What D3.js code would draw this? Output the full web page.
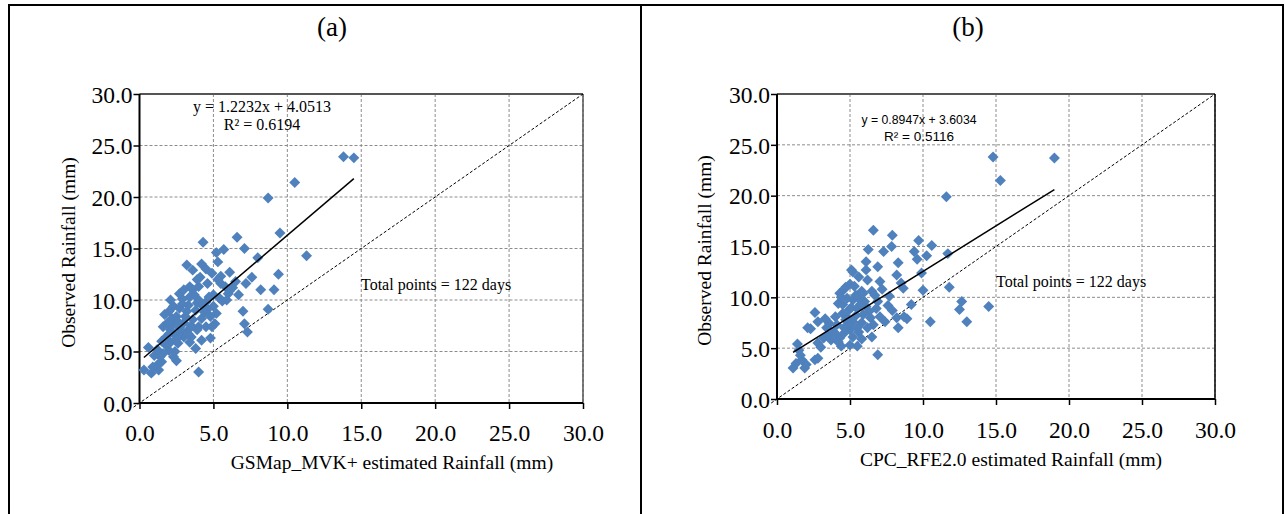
<!DOCTYPE html>
<html>
<head>
<meta charset="utf-8">
<script src="https://cdn.jsdelivr.net/npm/d3@7"></script>
<style>
  body { margin: 0; background: #fff; }
  svg text { font-family: "Liberation Serif", "Times New Roman", serif; fill: #000; }
</style>
</head>
<body>
<div id="chart"></div>
<script>
// ---------------- data ----------------
var tickValues = [0, 5, 10, 15, 20, 25, 30];
var panelTitles = ["(a)", "(b)"];
var xTitles = ["GSMap_MVK+ estimated Rainfall (mm)", "CPC_RFE2.0 estimated Rainfall (mm)"];
var yTitle = "Observed Rainfall (mm)";
var slopes = [1.2232, 0.8947];
var intercepts = [4.0513, 3.6034];
var eqLabels = ["y = 1.2232x + 4.0513", "y = 0.8947x + 3.6034"];
var r2Labels = ["R² = 0.6194", "R² = 0.5116"];
var noteLabel = "Total points = 122 days";

// panel (a): GSMap_MVK+ estimate vs observed
var gsmapEst = [13.8,14.5,10.5,8.7,9.5,11.3,4.3,6.6,5.7,5.2,7.1,5.3,3.2,3.6,4.2,4.5,4.9,5.5,8.0,7.6,
  9.4,9.1,8.2,7.2,6.7,6.1,5.8,4.6,4.0,3.4,5.4,5.0,4.5,4.0,3.4,2.9,2.1,2.3,2.0,2.7,
  3.3,3.8,2.5,3.1,3.6,4.2,5.1,4.5,4.0,1.6,2.2,2.7,3.3,3.9,4.8,4.2,3.8,2.5,4.0,0.6,
  0.3,0.8,1.2,1.5,1.3,2.0,2.4,1.6,1.4,2.1,2.6,1.8,2.4,3.0,3.5,2.1,7.0,7.1,7.3,8.7,
  6.0,5.0,5.3,3.6,4.4,4.9,3.0,1.9,2.7,3.9,4.7,5.6,6.3,2.2,1.8,1.0,3.2,4.1,5.9,6.5,
  2.8,3.4,1.5,2.9,3.7,4.8,2.6,1.2,3.5,4.3,5.2,6.1,3.9,2.0,2.3,0.9,3.0,4.6,1.7,5.5,
  3.3,2.5];
var gsmapObs = [23.9,23.8,21.4,19.9,16.5,14.3,15.6,16.1,14.9,14.6,15.0,13.7,13.4,12.9,13.5,13.0,12.6,12.3,14.1,12.2,
  12.5,11.0,11.0,11.6,10.5,10.9,11.3,11.6,11.3,11.3,10.2,9.4,9.8,10.0,10.3,10.1,10.0,9.4,8.9,9.2,
  9.5,9.0,8.4,8.4,8.1,8.2,7.7,7.4,7.4,7.4,7.6,7.3,7.1,7.1,6.3,6.1,5.3,4.1,3.0,5.4,
  3.2,2.9,3.7,4.0,3.2,5.1,5.0,4.8,4.5,5.9,5.8,6.4,6.6,6.4,6.4,7.1,8.9,7.7,6.9,9.1,
  10.6,10.5,12.0,11.0,8.8,7.4,7.8,7.8,10.6,9.7,10.3,9.9,11.2,8.2,5.6,4.6,8.9,12.2,10.0,11.8,
  6.9,5.9,6.0,9.6,10.5,8.4,7.9,5.2,7.5,9.4,8.7,12.7,12.0,6.7,4.5,3.5,11.0,9.1,8.6,11.6,
  6.7,6.2];

// panel (b): CPC_RFE2.0 estimate vs observed
var cpcEst = [14.8,19.0,15.3,11.6,6.6,7.9,6.25,7.85,9.7,10.6,7.3,9.4,10.25,9.6,11.7,6.1,6.9,6.1,8.3,5.2,
  5.1,8.2,7.05,8.5,8.65,10.0,11.8,12.65,12.5,14.5,13.0,10.5,8.3,8.9,8.2,7.6,7.7,6.9,6.5,5.8,
  5.0,4.7,4.3,4.2,4.8,5.2,5.6,4.95,5.5,6.1,6.8,7.05,6.4,5.8,5.2,4.7,4.0,4.1,5.0,5.6,
  5.2,4.3,4.4,5.0,5.5,3.7,3.2,2.8,3.5,2.6,2.8,2.1,1.4,1.5,1.7,1.1,1.9,2.6,2.8,6.9,
  4.6,5.4,6.0,4.5,5.9,6.6,3.6,4.9,5.4,6.2,3.9,4.6,2.3,1.6,1.3,2.0,3.0,4.2,5.8,6.5,
  7.4,7.9,8.7,9.2,6.7,5.3,4.5,3.3,5.1,5.7,6.3,4.8,5.5,4.0,4.6,5.9,7.2,9.9,4.4,3.4,
  5.6,6.2];
var cpcObs = [23.8,23.7,21.5,19.9,16.6,16.1,14.7,15.0,15.6,15.1,14.5,14.5,14.1,13.75,14.3,13.5,13.0,12.7,13.4,12.5,
  12.7,12.2,11.55,11.4,10.9,10.7,11.0,9.6,8.8,9.1,7.6,7.6,7.0,7.9,8.0,9.2,10.1,9.6,10.6,10.6,
  11.3,11.0,10.4,9.4,9.9,9.75,9.9,8.8,8.9,9.1,8.9,8.1,8.0,7.5,7.6,7.8,8.1,7.3,6.8,6.6,
  6.1,6.0,5.2,5.3,5.2,5.8,6.0,5.5,6.3,8.5,7.6,7.0,5.4,4.8,3.85,3.05,3.05,3.85,4.0,4.35,
  10.8,10.2,9.6,8.4,8.3,7.3,7.4,7.2,8.2,7.0,6.6,6.5,6.9,4.3,3.5,3.4,5.1,5.6,5.9,6.1,
  7.6,8.7,8.1,9.3,10.2,11.1,9.3,7.9,9.0,9.3,8.6,8.0,7.0,6.4,7.0,10.4,10.8,12.4,10.0,7.0,
  12.0,11.7];

// ---------------- layout ----------------
var W = 1285, H = 514;
var svg = d3.select("#chart").append("svg")
  .attr("width", W)
  .attr("height", H);

// outer frame of the two panels
var frame = svg.append("g").attr("stroke", "#000").attr("stroke-width", 2);
frame.append("line").attr("x1", 9).attr("y1", 5).attr("x2", 1283).attr("y2", 5);
frame.append("line").attr("x1", 9).attr("y1", 4).attr("x2", 9).attr("y2", H);
frame.append("line").attr("x1", 641).attr("y1", 4).attr("x2", 641).attr("y2", H);
frame.append("line").attr("x1", 1283).attr("y1", 4).attr("x2", 1283).attr("y2", H);

var panels = [
  { left: 139.5, right: 583, top: 94, bottom: 403, xs: gsmapEst, ys: gsmapObs,
    titleX: 332, yTitleX: 68, xTickY: 441, xTitleX: 392, xTitleY: 469,
    eqFont: "serif", eqX: 262, eqY: 112, eqSize: 16, r2X: 262, r2Y: 130, eqLen: 138,
    noteX: 361, noteY: 290, rightStroke: "#555" },
  { left: 777, right: 1215, top: 94, bottom: 399, xs: cpcEst, ys: cpcObs,
    titleX: 968, yTitleX: 704, xTickY: 438, xTitleX: 1011, xTitleY: 466,
    eqFont: "sans", eqX: 919, eqY: 124, eqSize: 13.5, r2X: 919, r2Y: 141, eqLen: 115,
    noteX: 996, noteY: 287, rightStroke: "#000" }
];

panels.forEach(function(p, i){
  var x = d3.scaleLinear().domain([0, 30]).range([p.left, p.right]);
  var y = d3.scaleLinear().domain([0, 30]).range([p.bottom, p.top]);
  var g = svg.append("g");

  // grid lines every 5 mm
  g.append("g").selectAll("line").data(tickValues.slice(1)).enter()
    .append("line")
      .attr("x1", function(d){ return x(d); }).attr("x2", function(d){ return x(d); })
      .attr("y1", p.top).attr("y2", p.bottom)
      .attr("stroke", "#8c8c8c").attr("stroke-width", 1).attr("stroke-dasharray", "3,2");
  g.append("g").selectAll("line").data(tickValues.slice(1)).enter()
    .append("line")
      .attr("x1", p.left).attr("x2", p.right)
      .attr("y1", function(d){ return y(d); }).attr("y2", function(d){ return y(d); })
      .attr("stroke", "#8c8c8c").attr("stroke-width", 1).attr("stroke-dasharray", "3,2");

  // plot area top / right border
  g.append("line").attr("x1", p.left).attr("x2", p.right).attr("y1", p.top).attr("y2", p.top)
    .attr("stroke", "#555").attr("stroke-width", 2);
  g.append("line").attr("x1", p.right).attr("x2", p.right).attr("y1", p.top).attr("y2", p.bottom)
    .attr("stroke", p.rightStroke).attr("stroke-width", 1.5);

  // 1:1 line
  g.append("line")
    .attr("x1", x(-0.4)).attr("y1", y(-0.4)).attr("x2", x(30)).attr("y2", y(30))
    .attr("stroke", "#000").attr("stroke-width", 1).attr("stroke-dasharray", "3,2");

  // axes
  var xAxis = d3.axisBottom(x).tickValues(tickValues).tickSize(6).tickFormat(d3.format(".1f"));
  var yAxis = d3.axisLeft(y).tickValues(tickValues).tickSize(6).tickFormat(d3.format(".1f"));
  var gx = g.append("g").attr("transform", "translate(0," + p.bottom + ")").call(xAxis);
  var gy = g.append("g").attr("transform", "translate(" + p.left + ",0)").call(yAxis);
  [gx, gy].forEach(function(a){
    a.attr("font-family", "Liberation Serif").attr("font-size", 23.5);
    a.select(".domain").attr("stroke", "#000").attr("stroke-width", 2);
    a.selectAll(".tick line").attr("stroke", "#000").attr("stroke-width", 1.5);
  });
  gx.select(".domain").attr("d", "M" + p.left + ",0H" + p.right);
  gy.select(".domain").attr("d", "M0," + p.bottom + "V" + p.top);
  gx.selectAll("text").attr("y", 0).attr("dy", 0)
    .attr("transform", "translate(0," + (p.xTickY - p.bottom) + ")");
  gy.selectAll("text").attr("x", -7).attr("dy", "0.35em");

  // data points
  var pts = d3.range(p.xs.length).map(function(k){ return [p.xs[k], p.ys[k]]; });
  g.append("g").selectAll("path").data(pts).enter()
    .append("path")
      .attr("d", d3.symbol().type(d3.symbolSquare).size(60))
      .attr("transform", function(d){ return "translate(" + x(d[0]) + "," + y(d[1]) + ") rotate(45)"; })
      .attr("fill", "#4f81bd");

  // trend line over the data range
  var x0 = d3.min(p.xs), x1 = d3.max(p.xs);
  g.append("line")
    .attr("x1", x(x0)).attr("y1", y(slopes[i]*x0 + intercepts[i]))
    .attr("x2", x(x1)).attr("y2", y(slopes[i]*x1 + intercepts[i]))
    .attr("stroke", "#000").attr("stroke-width", 1.5);

  // texts
  svg.append("text").attr("x", p.titleX).attr("y", 36).attr("text-anchor", "middle")
    .attr("font-size", 27).text(panelTitles[i]);
  svg.append("text").attr("transform", "translate(" + p.yTitleX + "," + ((p.top + p.bottom)/2 + 4) + ") rotate(-90)")
    .attr("text-anchor", "middle").attr("dy", "0.35em").attr("font-size", 19.5).text(yTitle);
  svg.append("text").attr("x", p.xTitleX).attr("y", p.xTitleY).attr("text-anchor", "middle")
    .attr("font-size", 19.5).text(xTitles[i]);

  var eqFam = p.eqFont == "sans" ? "Liberation Sans" : "Liberation Serif";
  svg.append("text").attr("x", p.eqX).attr("y", p.eqY).attr("text-anchor", "middle")
    .style("font-family", eqFam).attr("font-size", p.eqSize)
    .attr("textLength", p.eqLen).attr("lengthAdjust", "spacingAndGlyphs").text(eqLabels[i]);
  svg.append("text").attr("x", p.r2X).attr("y", p.r2Y).attr("text-anchor", "middle")
    .style("font-family", eqFam).attr("font-size", p.eqSize).text(r2Labels[i]);
  svg.append("text").attr("x", p.noteX).attr("y", p.noteY)
    .attr("font-size", 16).text(noteLabel);
});
</script>
</body>
</html>
